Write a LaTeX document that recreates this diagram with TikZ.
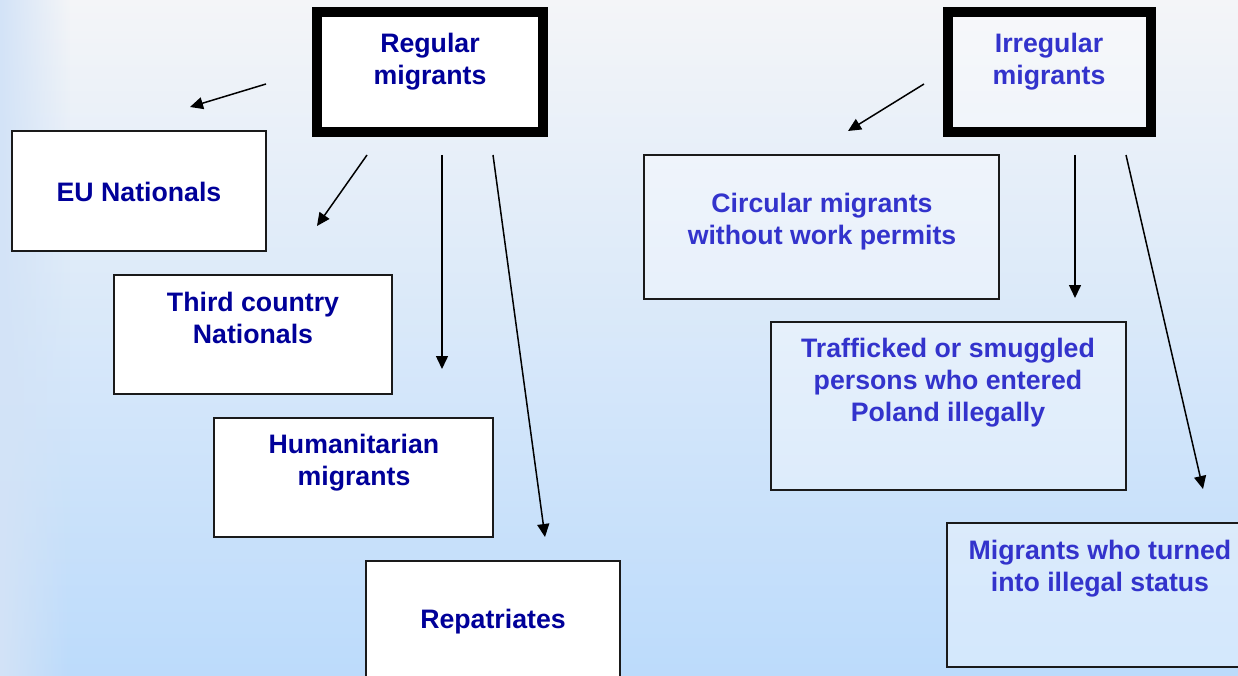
\documentclass[tikz,border=0pt]{standalone}
\usepackage{fontspec}
\setmainfont{Liberation Sans}
\usetikzlibrary{arrows.meta,fadings}
\definecolor{bgtop}{HTML}{F4F5F8}
\definecolor{bgmid}{HTML}{DCE8F7}
\definecolor{bgbot}{HTML}{BCDBFB}
\definecolor{bgside}{HTML}{D3E3F7}
\definecolor{navy}{HTML}{000099}
\definecolor{brightblue}{HTML}{3333CC}
\definecolor{edge}{HTML}{1A1A1A}
\tikzset{
  x=1pt, y=-1pt,
  box/.style={draw=edge, line width=1.3pt, fill=white, anchor=north west, inner sep=0pt, outer sep=0pt},
  thickbox/.style={draw=black, line width=10pt, anchor=north west, inner sep=0pt, outer sep=0pt},
  irrfill/.style={fill=white, fill opacity=0.35},
  regtxt/.style={text=navy, font=\bfseries\fontsize{26.7}{32}\selectfont, align=center, inner sep=0pt},
  irrtxt/.style={text=brightblue, font=\bfseries\fontsize{26.7}{32}\selectfont, align=center, inner sep=0pt},
  arr/.style={draw=black, line width=1.5pt, -{Triangle[length=13pt,width=12pt]}},
}
\begin{document}
\begin{tikzpicture}
\useasboundingbox (0,0) rectangle (1238,676);
\shade[top color=bgtop, middle color=bgmid, bottom color=bgbot] (0,0) rectangle (1238,676);
\fill[bgside, path fading=east] (0,0) rectangle (70,676);

% Regular side
\node[thickbox, fill=white, minimum width=226pt, minimum height=120pt] (reg) at (317,12) {};
\node[regtxt] (regt) at (430,62) {Regular\\migrants};

\node[box, minimum width=254pt, minimum height=120pt] (eu) at (12,131) {};
\node[regtxt] (eut) at (139,192) {EU Nationals};

\node[box, minimum width=278pt, minimum height=119pt] (tcn) at (114,275) {};
\node[regtxt] (tcnt) at (253,318) {Third country\\Nationals};

\node[box, minimum width=279pt, minimum height=119pt] (hum) at (214,418) {};
\node[regtxt] (humt) at (354,463) {Humanitarian\\migrants};

\node[box, minimum width=254pt, minimum height=130pt] (rep) at (366,561) {};
\node[regtxt] (rept) at (493,622) {Repatriates};

% Irregular side
\node[thickbox, irrfill, minimum width=203pt, minimum height=120pt] (irr) at (948,12) {};
\node[irrtxt] (irrt) at (1049,62) {Irregular\\migrants};

\node[box, irrfill, minimum width=355pt, minimum height=144pt] (circ) at (644,155) {};
\node[irrtxt] (circt) at (822,222) {Circular migrants\\without work permits};

\node[box, irrfill, minimum width=355pt, minimum height=168pt] (traf) at (771,322) {};
\node[irrtxt] (traft) at (948,383) {Trafficked or smuggled\\persons who entered\\Poland illegally};

\node[box, irrfill, minimum width=310pt, minimum height=144pt] (turn) at (947,523) {};
\node[irrtxt] (turnt) at (1100,569) {Migrants who turned\\into illegal status};

% arrow end points
\coordinate (a1s) at (266,84);   \coordinate (a1e) at (190,107);
\coordinate (a2s) at (367,155);  \coordinate (a2e) at (317,226);
\coordinate (a3s) at (442,155);  \coordinate (a3e) at (442,369);
\coordinate (a4s) at (493,155);  \coordinate (a4e) at (545,537);
\coordinate (b1s) at (924,84);   \coordinate (b1e) at (848,131);
\coordinate (b2s) at (1075,155); \coordinate (b2e) at (1075,298);
\coordinate (b3s) at (1126,155); \coordinate (b3e) at (1203,489);

\draw[arr] (a1s) -- (a1e);
\draw[arr] (a2s) -- (a2e);
\draw[arr] (a3s) -- (a3e);
\draw[arr] (a4s) -- (a4e);
\draw[arr] (b1s) -- (b1e);
\draw[arr] (b2s) -- (b2e);
\draw[arr] (b3s) -- (b3e);
\end{tikzpicture}
\end{document}
